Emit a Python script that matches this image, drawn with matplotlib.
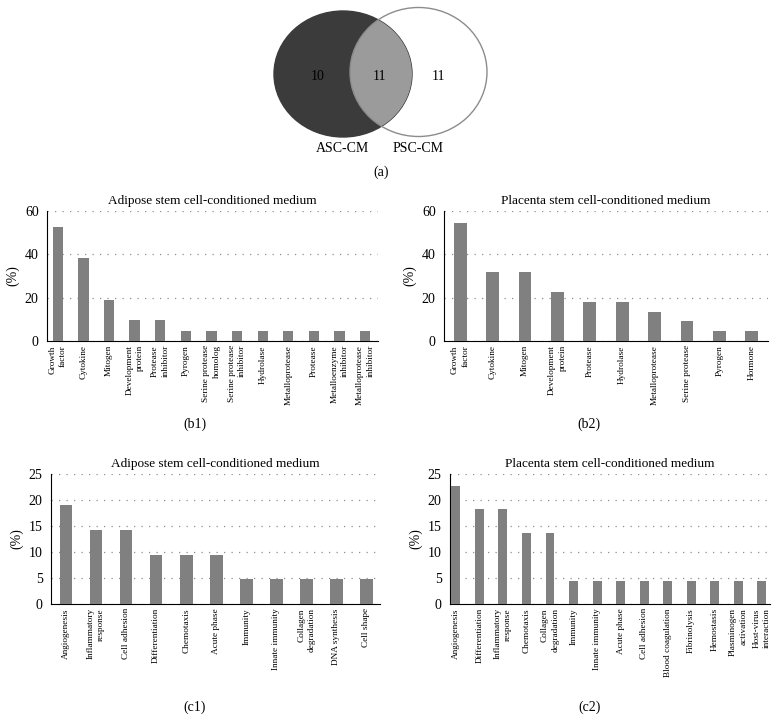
import matplotlib
matplotlib.use("Agg")
import matplotlib.pyplot as plt
from matplotlib.patches import Ellipse

plt.rcParams['font.family'] = ['Liberation Serif', 'DejaVu Serif']

# ---- data ----
venn_labels = ["ASC-CM", "PSC-CM"]
venn_counts = [10, 11, 11]  # ASC only, shared, PSC only

b1_cats = ["Growth\nfactor", "Cytokine", "Mitogen", "Development\nprotein", "Protease\ninhibitor",
           "Pyrogen", "Serine protease\nhomolog", "Serine protease\ninhibitor", "Hydrolase",
           "Metalloprotease", "Protease", "Metalloenzyme\ninhibitor", "Metalloprotease\ninhibitor"]
b1_vals = [52.4, 38.1, 19.0, 9.5, 9.5, 4.8, 4.8, 4.8, 4.8, 4.8, 4.8, 4.8, 4.8]

b2_cats = ["Growth\nfactor", "Cytokine", "Mitogen", "Development\nprotein", "Protease",
           "Hydrolase", "Metalloprotease", "Serine protease", "Pyrogen", "Hormone"]
b2_vals = [54.5, 31.8, 31.8, 22.7, 18.2, 18.2, 13.6, 9.1, 4.5, 4.5]

c1_cats = ["Angiogenesis", "Inflammatory\nresponse", "Cell adhesion", "Differentiation",
           "Chemotaxis", "Acute phase", "Immunity", "Innate immunity", "Collagen\ndegradation",
           "DNA synthesis", "Cell shape"]
c1_vals = [19.0, 14.3, 14.3, 9.5, 9.5, 9.5, 4.8, 4.8, 4.8, 4.8, 4.8]

c2_cats = ["Angiogenesis", "Differentiation", "Inflammatory\nresponse", "Chemotaxis",
           "Collagen\ndegradation", "Immunity", "Innate immunity", "Acute phase", "Cell adhesion",
           "Blood coagulation", "Fibrinolysis", "Hemostasis", "Plasminogen\nactivation",
           "Host-virus\ninteraction"]
c2_vals = [22.7, 18.2, 18.2, 13.6, 13.6, 4.5, 4.5, 4.5, 4.5, 4.5, 4.5, 4.5, 4.5, 4.5]

W, H = 782, 720
fig = plt.figure(figsize=(W / 100, H / 100), dpi=100)

def fx(px):
    return px / W

def fy(py):
    return 1 - py / H

# ---- Venn ----
va = fig.add_axes([0, 0, 1, 1])
va.set_xlim(0, W)
va.set_ylim(H, 0)
va.axis('off')
left = Ellipse((343, 74), 138, 126, facecolor='#3b3b3b', edgecolor='#3b3b3b', lw=1)
va.add_patch(left)
inter = Ellipse((418.5, 72), 137, 129, facecolor='#9b9b9b', edgecolor='none')
va.add_patch(inter)
inter.set_clip_path(left)
right = Ellipse((418.5, 72), 137, 129, facecolor='none', edgecolor='#8c8c8c', lw=1)
va.add_patch(right)
for x, n in zip([318, 379, 438], venn_counts):
    va.text(x, 77, str(n), ha='center', va='center', fontsize=10, color='black')
va.text(342, 148, venn_labels[0], ha='center', va='center', fontsize=10)
va.text(418, 148, venn_labels[1], ha='center', va='center', fontsize=10)
va.text(381, 172, "(a)", ha='center', va='center', fontsize=10)

def panel(rect, cats, vals, ymax, step, xlim, width, title, lab, labpos):
    ax = fig.add_axes(rect)
    x = range(len(cats))
    ax.bar(x, vals, width=width, color='#808080', zorder=3)
    ax.set_xlim(*xlim)
    ax.set_ylim(0, ymax)
    ax.set_yticks(range(0, ymax + 1, step))
    ax.yaxis.grid(True, linestyle=(0, (1, 5)), color='#8f8f8f', lw=0.9)
    ax.set_axisbelow(True)
    for s in ['top', 'right']:
        ax.spines[s].set_visible(False)
    ax.spines['left'].set_linewidth(0.8)
    ax.spines['bottom'].set_linewidth(0.8)
    ax.tick_params(axis='y', length=0, labelsize=10, pad=6)
    ax.set_xticks(list(x))
    ax.set_xticklabels(cats, rotation=90, fontsize=6.7, ha='center', va='top',
                       multialignment='right', linespacing=1.4)
    ax.tick_params(axis='x', length=0, pad=3)
    ax.set_ylabel("(%)", fontsize=10, labelpad=4)
    ax.set_title(title, fontsize=9.5, pad=5)
    fig.text(fx(labpos[0]), fy(labpos[1]), lab, ha='center', va='center', fontsize=10)
    return ax

panel([fx(47), fy(341), fx(378) - fx(47), fy(211) - fy(341)], b1_cats, b1_vals, 60, 20,
      (-0.42, 12.5), 0.4, "Adipose stem cell-conditioned medium", "(b1)", (195, 424))
panel([fx(444), fy(341), fx(768) - fx(444), fy(211) - fy(341)], b2_cats, b2_vals, 60, 20,
      (-0.5, 9.5), 0.4, "Placenta stem cell-conditioned medium", "(b2)", (589, 424))
panel([fx(51), fy(604), fx(380) - fx(51), fy(474) - fy(604)], c1_cats, c1_vals, 25, 5,
      (-0.5, 10.45), 0.42, "Adipose stem cell-conditioned medium", "(c1)", (195, 707))
panel([fx(450), fy(604), fx(770) - fx(450), fy(474) - fy(604)], c2_cats, c2_vals, 25, 5,
      (-0.25, 13.35), 0.38, "Placenta stem cell-conditioned medium", "(c2)", (590, 707))

fig.savefig("out.png", dpi=100)
